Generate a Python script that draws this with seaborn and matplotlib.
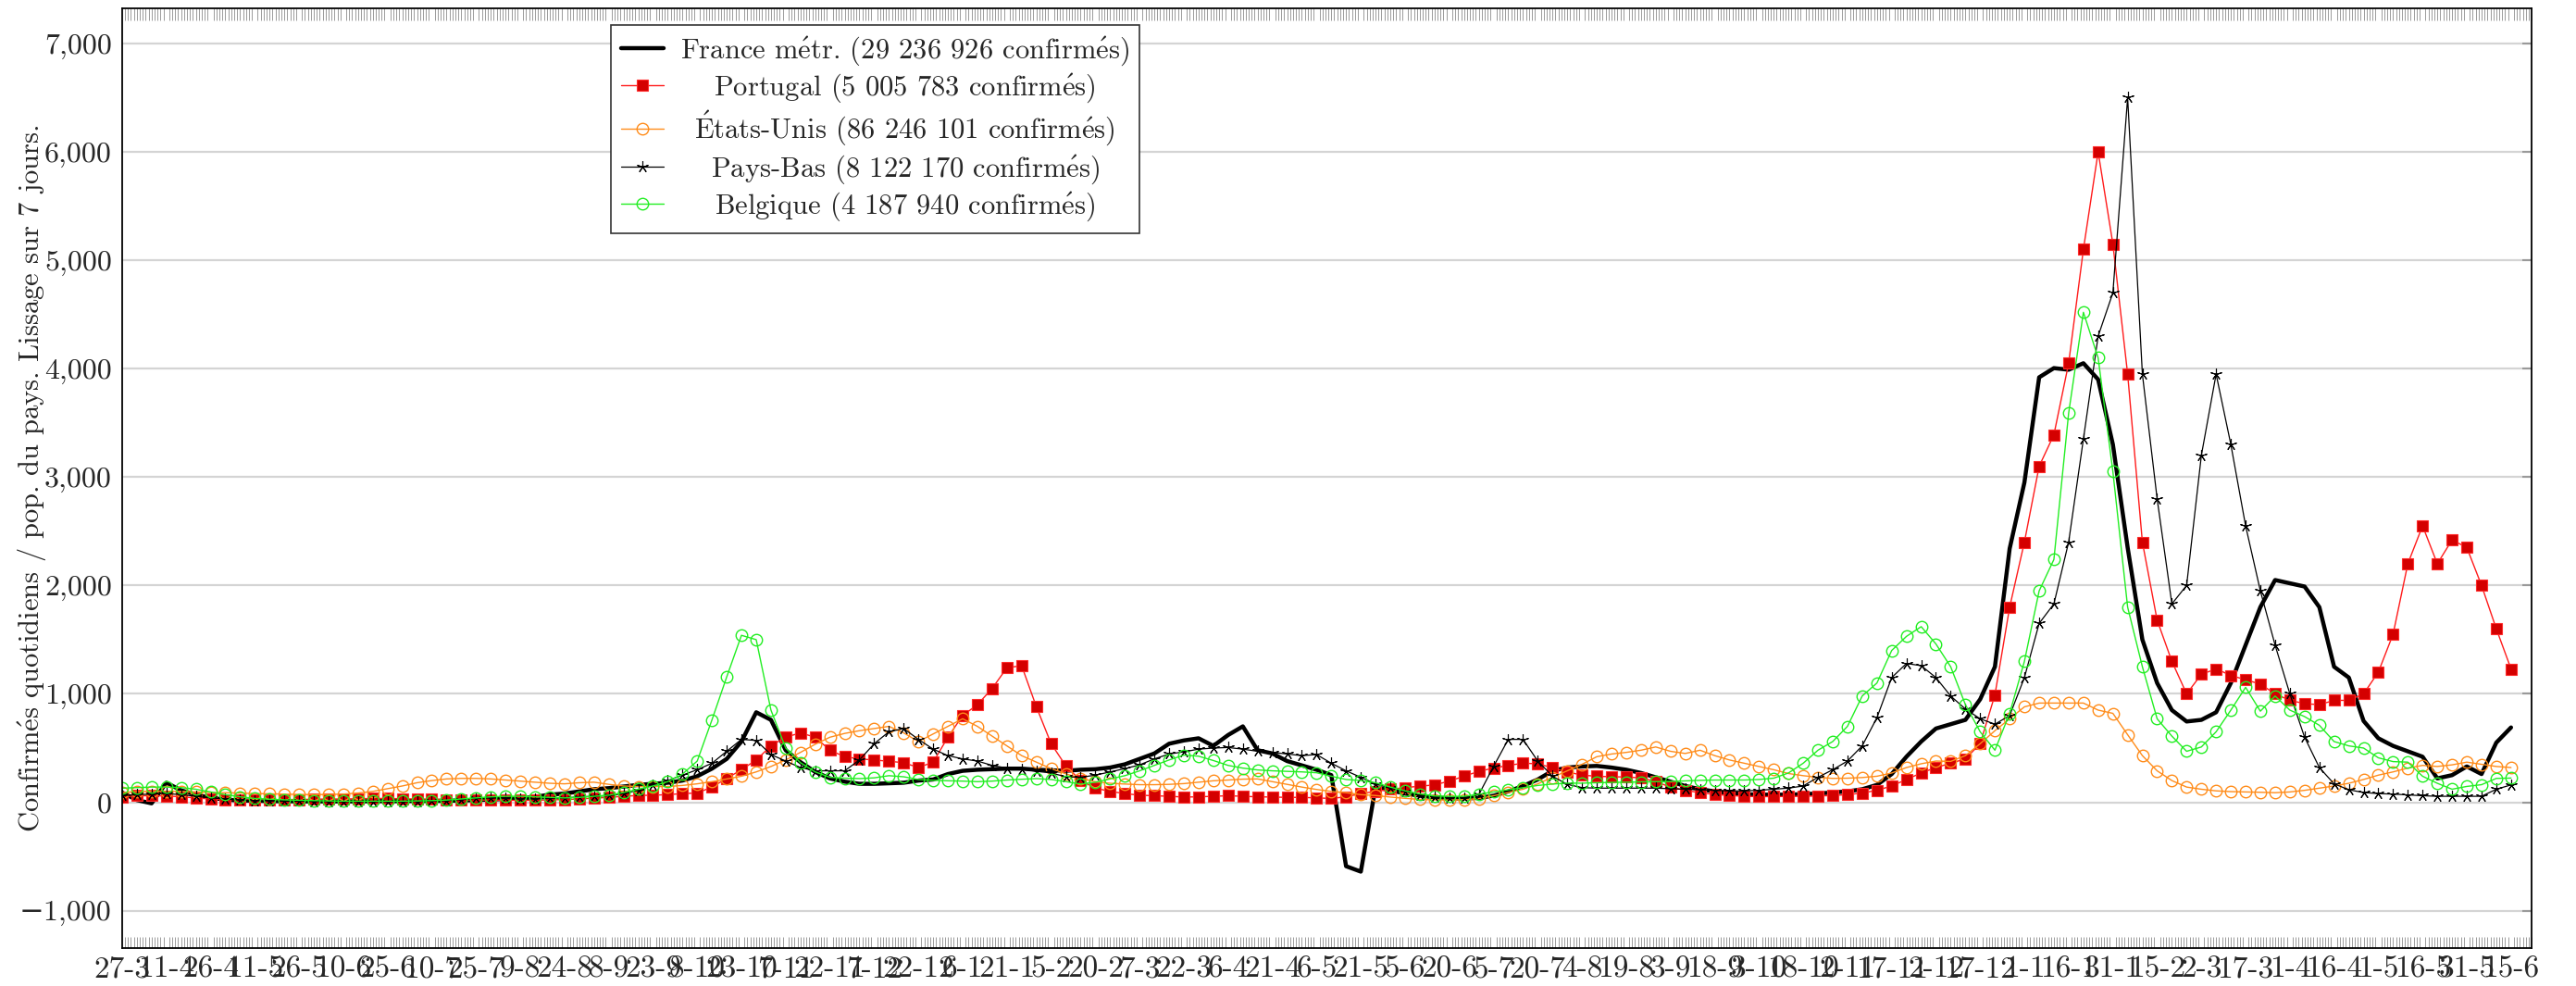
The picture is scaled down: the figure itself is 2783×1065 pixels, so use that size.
import numpy as np
import pandas as pd
import seaborn as sns
import matplotlib
matplotlib.use("Agg")
import matplotlib.pyplot as plt
from matplotlib.ticker import FuncFormatter, MultipleLocator, FixedLocator

# un point tous les 5 jours, à partir du 27-3-2020 (jusqu'au 15-6-2022)
pas_jours = 5

france = [
    90, 20, -10, 180, 110, 70, 40, 25, 15,
    15, 10, 10, 8, 8, 8, 8, 8, 10,
    10, 10, 12, 12, 14, 16, 20, 25, 30,
    35, 50, 70, 80, 100, 120, 130, 145, 160,
    170, 180, 200, 240, 310, 400, 560, 830, 760,
    480, 370, 280, 220, 190, 170, 170, 175, 180,
    200, 210, 260, 290, 300, 305, 310, 310, 300,
    295, 290, 300, 305, 320, 350, 400, 450, 540,
    570, 590, 520, 620, 700, 480, 450, 380, 340,
    300, 250, -590, -640, 140, 110, 80, 60, 45,
    35, 35, 40, 60, 100, 150, 210, 290, 320,
    330, 335, 320, 300, 270, 230, 190, 150, 120,
    100, 85, 75, 70, 70, 70, 75, 80, 90,
    100, 120, 160, 260, 420, 560, 680, 720, 760,
    950, 1250, 2340, 2950, 3920, 4005, 3990, 4050, 3900,
    3300, 2350, 1500, 1100, 850, 745, 760, 830, 1100,
    1450, 1800, 2050, 2020, 1990, 1800, 1250, 1150, 750,
    590, 520, 470, 420, 220, 250, 330, 260, 550,
    690,
]

portugal = [
    50, 60, 60, 58, 50, 40, 30, 25, 24,
    22, 22, 25, 25, 28, 30, 30, 32, 35,
    35, 32, 30, 28, 25, 22, 20, 20, 18,
    18, 18, 22, 25, 30, 38, 45, 55, 62,
    65, 70, 80, 85, 140, 220, 300, 390, 520,
    600, 640, 600, 480, 420, 400, 390, 378, 365,
    320, 370, 600, 800, 900, 1050, 1240, 1260, 880,
    540, 335, 200, 130, 100, 80, 65, 60, 55,
    48, 50, 55, 60, 55, 50, 48, 45, 45,
    40, 35, 50, 80, 100, 120, 135, 148, 160,
    195, 240, 285, 315, 340, 360, 355, 318, 280,
    250, 240, 235, 233, 225, 190, 140, 110, 88,
    72, 62, 55, 52, 52, 54, 55, 58, 62,
    70, 85, 110, 150, 210, 270, 320, 360, 400,
    540, 990, 1800, 2400, 3100, 3390, 4050, 5100, 6000,
    5150, 3950, 2400, 1680, 1300, 1000, 1180, 1230, 1170,
    1130, 1090, 1000, 940, 910, 900, 940, 940, 1000,
    1200, 1550, 2200, 2550, 2200, 2420, 2350, 2000, 1600,
    1230,
]

etats_unis = [
    90, 98, 102, 102, 100, 96, 90, 88, 85,
    80, 78, 75, 72, 70, 72, 75, 85, 100,
    125, 150, 180, 200, 215, 220, 220, 215, 205,
    195, 185, 175, 170, 180, 185, 165, 150, 145,
    145, 145, 155, 170, 190, 215, 240, 280, 330,
    390, 460, 535, 600, 635, 660, 680, 700, 640,
    560, 630, 700, 770, 700, 610, 520, 430, 370,
    310, 262, 220, 190, 175, 168, 162, 162, 165,
    172, 185, 198, 205, 213, 215, 190, 165, 140,
    118, 100, 88, 70, 62, 48, 36, 26, 22,
    20, 24, 33, 60, 90, 120, 170, 230, 290,
    350, 420, 445, 460, 480, 510, 470, 450, 480,
    430, 390, 360, 330, 300, 265, 245, 230, 220,
    222, 228, 240, 270, 320, 355, 380, 377, 430,
    540, 660, 770, 880, 915, 915, 915, 915, 850,
    820, 623, 430, 290, 200, 140, 120, 105, 98,
    95, 92, 88, 95, 110, 130, 150, 175, 210,
    250, 280, 315, 340, 330, 345, 370, 350, 330,
    320,
]

pays_bas = [
    60, 70, 75, 80, 70, 55, 40, 30, 20,
    15, 12, 10, 10, 8, 6, 6, 5, 5,
    5, 5, 8, 10, 15, 25, 35, 40, 35,
    30, 30, 35, 40, 50, 55, 60, 80, 110,
    160, 200, 250, 300, 360, 470, 580, 570, 440,
    380, 320, 290, 290, 290, 390, 540, 650, 680,
    580, 490, 430, 400, 380, 340, 315, 305, 285,
    270, 235, 230, 250, 280, 310, 345, 400, 445,
    465, 490, 500, 505, 490, 470, 460, 445, 430,
    440, 360, 290, 230, 170, 130, 100, 62, 50,
    42, 36, 70, 330, 580, 580, 380, 240, 165,
    135, 130, 130, 130, 130, 130, 125, 120, 115,
    110, 105, 105, 110, 120, 130, 150, 230, 300,
    380, 520, 780, 1150, 1280, 1260, 1150, 980, 860,
    770, 720, 800, 1150, 1650, 1830, 2400, 3350, 4300,
    4700, 6500, 3950, 2800, 1830, 2000, 3200, 3950, 3300,
    2550, 1950, 1450, 1000, 600, 320, 170, 115, 90,
    80, 75, 68, 60, 55, 55, 55, 55, 120,
    160,
]

belgique = [
    130, 135, 140, 140, 135, 120, 95, 70, 50,
    35, 28, 22, 18, 15, 12, 10, 10, 10,
    10, 10, 12, 15, 20, 30, 40, 50, 55,
    55, 50, 45, 40, 45, 55, 65, 90, 120,
    150, 190, 260, 380, 760, 1156, 1540, 1500, 850,
    500, 365, 280, 230, 222, 218, 225, 245, 235,
    210, 202, 198, 195, 190, 195, 205, 212, 218,
    210, 190, 168, 185, 215, 245, 290, 340, 390,
    435, 425, 385, 340, 315, 298, 290, 285, 280,
    272, 240, 210, 200, 180, 140, 105, 77, 58,
    54, 55, 74, 95, 115, 134, 155, 168, 176,
    176, 180, 183, 185, 188, 190, 192, 197, 202,
    205, 205, 205, 210, 222, 270, 360, 480, 560,
    700, 980, 1100, 1400, 1530, 1620, 1460, 1250, 900,
    650, 480, 820, 1300, 1950, 2240, 3590, 4520, 4100,
    3050, 1800, 1250, 770, 610, 470, 510, 650, 850,
    1060, 840, 980, 850, 790, 710, 560, 520, 500,
    410, 375, 370, 240, 175, 120, 146, 162, 220,
    223,
]

# étiquettes de l'axe x, une tous les 15 jours
etiquettes_x = [
    "27-3", "11-4", "26-4", "11-5", "26-5", "10-6", "25-6", "10-7", "25-7",
    "9-8", "24-8", "8-9", "23-9", "8-10", "23-10", "7-11", "22-11", "7-12",
    "22-12", "6-1", "21-1", "5-2", "20-2", "7-3", "22-3", "6-4", "21-4",
    "6-5", "21-5", "5-6", "20-6", "5-7", "20-7", "4-8", "19-8", "3-9",
    "18-9", "3-10", "18-10", "2-11", "17-11", "2-12", "17-12", "1-1", "16-1",
    "31-1", "15-2", "2-3", "17-3", "1-4", "16-4", "1-5", "16-5", "31-5",
    "15-6",
]

# accents en mathtext pour rester dans la police Computer Modern
E_AIGU = r"$\mathrm{\acute{e}}$"
E_AIGU_MAJ = r"$\mathrm{\acute{E}}$"

noms = [
    f"France m{E_AIGU}tr. (29 236 926 confirm{E_AIGU}s)",
    f"Portugal (5 005 783 confirm{E_AIGU}s)",
    f"{E_AIGU_MAJ}tats-Unis (86 246 101 confirm{E_AIGU}s)",
    f"Pays-Bas (8 122 170 confirm{E_AIGU}s)",
    f"Belgique (4 187 940 confirm{E_AIGU}s)",
]
titre_y = f"Confirm{E_AIGU}s quotidiens / pop. du pays. Lissage sur 7 jours."

df = pd.DataFrame({
    "jour": np.arange(len(france)) * pas_jours,
    "france": france,
    "portugal": portugal,
    "etats_unis": etats_unis,
    "pays_bas": pays_bas,
    "belgique": belgique,
})
colonnes = ["france", "portugal", "etats_unis", "pays_bas", "belgique"]

styles = {
    "france": dict(color="black", linewidth=3.2),
    "portugal": dict(color="#ff1a1a", linewidth=1.0, marker="s", markersize=8,
                     markerfacecolor="#d40000", markeredgecolor="#ff2a2a", markeredgewidth=0.8),
    "etats_unis": dict(color="#ff8c1a", linewidth=1.0, marker="o", markersize=9,
                       markerfacecolor="none", markeredgecolor="#ff8c1a", markeredgewidth=1.0),
    "pays_bas": dict(color="black", linewidth=0.9, marker=(5, 2, 0), markersize=9,
                     markeredgecolor="black", markeredgewidth=0.8),
    "belgique": dict(color="#22ee22", linewidth=1.0, marker="o", markersize=9,
                     markerfacecolor="none", markeredgecolor="#22ee22", markeredgewidth=1.0),
}

sns.set_style("white")
plt.rcParams["font.family"] = ["cmr10", "DejaVu Serif"]
plt.rcParams["mathtext.fontset"] = "cm"

fig = plt.figure(figsize=(27.83, 10.65), dpi=100)
ax = fig.add_axes([0.0474, 0.0385, 0.9354, 0.9526])

for col, nom in zip(colonnes, noms):
    sns.lineplot(data=df, x="jour", y=col, ax=ax, label=nom, sort=False,
                 estimator=None, **styles[col])

ax.set_xlim(0, 817)
ax.set_ylim(-1345, 7320)

ax.yaxis.set_major_locator(FixedLocator(np.arange(-1000, 7001, 1000)))
ax.yaxis.set_major_formatter(FuncFormatter(lambda v, p: f"{v:,.0f}".replace("-", "\u2212")))
ax.xaxis.set_major_locator(FixedLocator(np.arange(len(etiquettes_x)) * 15))
ax.set_xticklabels(etiquettes_x)
ax.xaxis.set_minor_locator(MultipleLocator(1))

ax.yaxis.grid(True, color="#d4d4d4", linewidth=1.6)
ax.set_axisbelow(True)

ax.tick_params(axis="y", direction="in", length=7, width=1.5, color="#999999",
               right=True, labelsize=23, pad=8)
ax.tick_params(axis="x", which="major", direction="in", length=0, labelsize=24, pad=6)
ax.tick_params(axis="x", which="minor", direction="in", length=9, width=0.6,
               color="#8c8c8c", top=True, bottom=True)

for s in ax.spines.values():
    s.set_color("black")
    s.set_linewidth(1.3)

ax.set_xlabel("")
ax.set_ylabel(titre_y, fontsize=22)
ax.yaxis.set_label_coords(-0.0305, 0.5)

leg = ax.legend(loc="upper left", bbox_to_anchor=(0.203, 0.983), borderaxespad=0,
                fontsize=22, frameon=True, fancybox=False, framealpha=1,
                edgecolor="#333333", handlelength=1.5, labelspacing=0.16,
                handletextpad=0.6, borderpad=0.35)
leg.get_frame().set_linewidth(1.2)

# textes de la légende centrés comme dans l'original
fig.canvas.draw()
rend = fig.canvas.get_renderer()
largeurs = [t.get_window_extent(rend).width for t in leg.get_texts()]
lmax = max(largeurs)
for t, w in zip(leg.get_texts(), largeurs):
    t.set_position(((lmax - w) / 2, 0))

fig.savefig("out.png", dpi=100)
